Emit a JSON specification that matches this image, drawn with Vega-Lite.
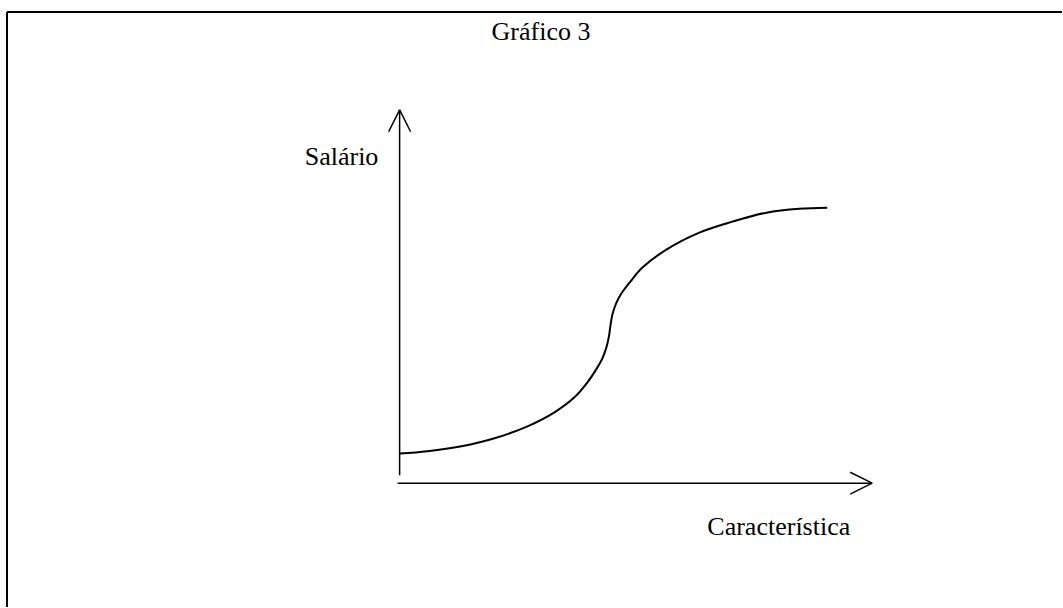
{
  "$schema": "https://vega.github.io/schema/vega-lite/v6.json",
  "width": 1063,
  "height": 608,
  "autosize": {"type": "fit", "contains": "padding"},
  "padding": 0,
  "background": "white",
  "config": {"view": {"stroke": null}},
  "datasets": {
    "segments": [
      {"part": "border", "x": 7, "y": 12, "x2": 7, "y2": 608, "w": 2},
      {"part": "border", "x": 7, "y": 12, "x2": 1063, "y2": 12, "w": 2},
      {"part": "yaxis", "x": 400, "y": 476, "x2": 400, "y2": 110, "w": 1.5},
      {"part": "yarrow", "x": 400, "y": 110, "x2": 389, "y2": 132, "w": 1.5},
      {"part": "yarrow", "x": 400, "y": 110, "x2": 411, "y2": 132, "w": 1.5},
      {"part": "xaxis", "x": 398, "y": 484, "x2": 873, "y2": 484, "w": 1.5},
      {"part": "xarrow", "x": 873, "y": 484, "x2": 851, "y2": 473, "w": 1.5},
      {"part": "xarrow", "x": 873, "y": 484, "x2": 851, "y2": 495, "w": 1.5}
    ],
    "curve": [
      {"x": 400, "y": 454.3}, {"x": 428, "y": 452}, {"x": 462, "y": 447},
      {"x": 495, "y": 439}, {"x": 528, "y": 427}, {"x": 555, "y": 413},
      {"x": 575, "y": 398}, {"x": 588, "y": 383}, {"x": 598, "y": 368},
      {"x": 603, "y": 359}, {"x": 606, "y": 351}, {"x": 608, "y": 344},
      {"x": 609.5, "y": 337}, {"x": 610.5, "y": 330}, {"x": 611.5, "y": 323},
      {"x": 613, "y": 315}, {"x": 615.5, "y": 307}, {"x": 619, "y": 299},
      {"x": 624, "y": 291}, {"x": 631, "y": 282}, {"x": 643, "y": 268},
      {"x": 667, "y": 250}, {"x": 700, "y": 233}, {"x": 733, "y": 222},
      {"x": 767, "y": 213}, {"x": 800, "y": 209}, {"x": 828, "y": 208}
    ],
    "labels": [
      {"text": "Gráfico 3", "x": 492, "y": 40},
      {"text": "Salário", "x": 305, "y": 165},
      {"text": "Característica", "x": 708, "y": 536}
    ]
  },
  "layer": [
    {
      "data": {"name": "segments"},
      "mark": {"type": "rule", "color": "black", "strokeCap": "butt"},
      "encoding": {
        "x": {"field": "x", "type": "quantitative", "scale": {"domain": [0, 1063], "nice": false, "zero": false}, "axis": null},
        "y": {"field": "y", "type": "quantitative", "scale": {"domain": [0, 608], "nice": false, "zero": false, "reverse": true}, "axis": null},
        "x2": {"field": "x2"},
        "y2": {"field": "y2"},
        "strokeWidth": {"field": "w", "type": "quantitative", "scale": null}
      }
    },
    {
      "data": {"name": "curve"},
      "mark": {"type": "line", "color": "black", "strokeWidth": 2, "interpolate": "catmull-rom"},
      "encoding": {
        "x": {"field": "x", "type": "quantitative"},
        "y": {"field": "y", "type": "quantitative"}
      }
    },
    {
      "data": {"name": "labels"},
      "mark": {"type": "text", "font": "Liberation Serif", "fontSize": 26, "align": "left", "baseline": "alphabetic", "color": "black"},
      "encoding": {
        "x": {"field": "x", "type": "quantitative"},
        "y": {"field": "y", "type": "quantitative"},
        "text": {"field": "text"}
      }
    }
  ]
}
